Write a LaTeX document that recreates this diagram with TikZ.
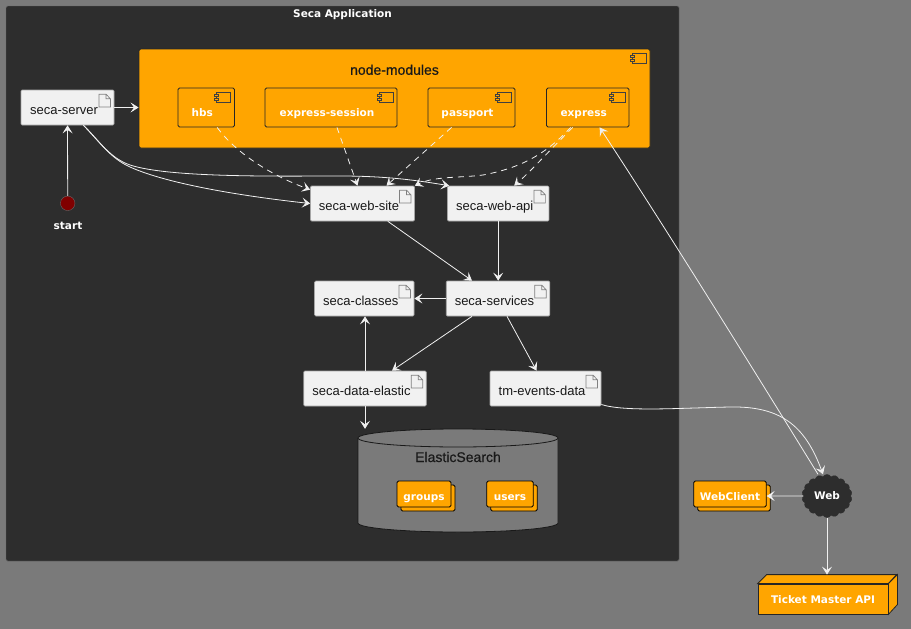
\documentclass[tikz,border=0pt]{standalone}
\usepackage{fontspec}
\setmainfont{Liberation Sans}
\newfontfamily\tagfont{DejaVu Sans}
\newfontfamily\headfont{Liberation Sans}[FakeBold=0.6]
\usetikzlibrary{arrows.meta,shapes.symbols,shadows}
\definecolor{pagegray}{HTML}{7A7A7A}
\definecolor{framedark}{HTML}{2D2D2D}
\definecolor{modorange}{HTML}{FFA500}
\definecolor{artfill}{HTML}{F1F1F1}
\definecolor{linkwhite}{HTML}{F0F0F0}
\tikzset{
  whitetag/.style={text=white,font=\tagfont\bfseries\fontsize{10.5}{12}\selectfont},
  darktext/.style={text=black!90,font=\headfont\fontsize{14}{16}\selectfont},
  artifact/.style={
    draw=gray!70,line width=.7pt,fill=artfill,rounded corners=1.2pt,inner sep=0pt,minimum height=35pt,
    text=black!90,font=\fontsize{13}{15}\selectfont,text height=13pt,text depth=0pt,
    execute at end node={\hspace*{7pt}},
    path picture={
      \draw[gray,line width=.7pt,sharp corners,fill=artfill]
        ([xshift=-15pt,yshift=-4.2pt]path picture bounding box.north east)
        -- ++(7pt,0pt) -- ++(4.4pt,-4.5pt) -- ++(0pt,-8.2pt) -- ++(-11.4pt,0pt) -- cycle
        ([xshift=-8pt,yshift=-4.2pt]path picture bounding box.north east)
        -- ++(0pt,-4.5pt) -- ++(4.4pt,0pt);
    }
  },
  iconbox/.style={
    draw=black!85,line width=.9pt,fill=modorange,rounded corners=1.5pt,inner sep=0pt,
    path picture={
      \draw[black!75,line width=.9pt,sharp corners]
        ([xshift=-18pt,yshift=-4.5pt]path picture bounding box.north east) rectangle ++(14pt,-9.5pt);
      \draw[black!75,line width=.8pt,sharp corners,fill=modorange]
        ([xshift=-20pt,yshift=-6.5pt]path picture bounding box.north east) rectangle ++(4pt,-2pt)
        ([xshift=-20pt,yshift=-10pt]path picture bounding box.north east) rectangle ++(4pt,-2pt);
    }
  },
  module/.style={
    iconbox,minimum height=39pt,whitetag,text height=18pt,text depth=0pt,
    execute at end node={\hspace*{8pt}}
  },
  stack/.style={
    draw=black,line width=.8pt,fill=modorange,rounded corners=1.5pt,inner sep=0pt,minimum height=26pt,
    whitetag,text height=12pt,text depth=0pt,
    copy shadow={shadow xshift=4pt,shadow yshift=-4pt,draw=black,fill=modorange}
  },
  storeline/.style={draw=black!90,line width=.8pt},
  link/.style={draw=linkwhite,line width=.8pt,-{Stealth[length=8pt,width=10pt,inset=3.5pt]}},
  dashlink/.style={link,dashed,dash pattern=on 6pt off 5pt}
}
\begin{document}
\begin{tikzpicture}[x=1pt,y=-1pt]
  \fill[pagegray] (0,0) rectangle (911,629);
  \useasboundingbox (0,0) rectangle (911,629);

  \node[draw=black!60,fill=framedark,rounded corners=1.5pt,minimum width=673pt,minimum height=555pt,inner sep=0pt] (app) at (342.5,283.5) {};
  \node[whitetag] (apptitle) at (342.5,15) {Seca Application};

  % node modules and what is inside
  \node[iconbox,minimum width=511pt,minimum height=99pt,darktext,text height=0pt,text depth=47.5pt] (modules) at (394.5,98.5) {node-modules};
  \node[module,minimum width=56.5pt] (hbs) at (206.2,107.5) {hbs};
  \node[module,minimum width=132pt] (session) at (331,107.5) {express-session};
  \node[module,minimum width=87pt] (passport) at (471.5,107.5) {passport};
  \node[module,minimum width=82.5pt] (express) at (587.7,107.5) {express};

  \node[artifact,minimum width=93pt] (server) at (67.5,107.5) {seca-server};
  \node[circle,draw=black!60,fill=red!50!black,minimum size=14.5pt,inner sep=0pt] (start) at (67.7,203.3) {};
  \node[whitetag] (startlabel) at (68,225.5) {start};

  \node[artifact,minimum width=104pt] (site) at (362.5,203.5) {seca-web-site};
  \node[artifact,minimum width=101.5pt] (api) at (498.2,203.5) {seca-web-api};
  \node[artifact,minimum width=99.5pt] (classes) at (364.3,298.5) {seca-classes};
  \node[artifact,minimum width=103.5pt] (services) at (498,298.5) {seca-services};
  \node[artifact,minimum width=122.5pt] (elastic) at (365,388.5) {seca-data-elastic};
  \node[artifact,minimum width=111pt] (events) at (545.5,388.5) {tm-events-data};

  % the data store
  \draw[storeline,fill=pagegray] (358,438) arc[start angle=180,end angle=0,x radius=100pt,y radius=9pt]
    -- (558,523) arc[start angle=0,end angle=-180,x radius=100pt,y radius=9pt] -- cycle;
  \draw[storeline] (358,438) arc[start angle=180,end angle=360,x radius=100pt,y radius=9pt];
  \node[minimum width=200pt,minimum height=103pt,inner sep=0pt,darktext,text height=0pt,text depth=37pt] (store) at (458,480.5) {ElasticSearch};
  \node[stack,minimum width=54pt] (groups) at (424,494) {groups};
  \node[stack,minimum width=46.5pt] (users) at (510,494) {users};

  % outside of the application
  \node[stack,minimum width=72.5pt] (client) at (730,494) {WebClient};
  \node[cloud,cloud puffs=18,cloud puff arc=120,aspect=1.15,draw=framedark,fill=framedark,minimum width=50pt,minimum height=43pt,inner sep=0pt,whitetag,text=white] (web) at (827,496) {Web};
  \node[draw=black!85,line width=.8pt,fill=modorange,minimum width=130pt,minimum height=30pt,inner sep=0pt,whitetag,text height=9pt,text depth=0pt] (ticket) at (823,599) {Ticket Master API};
  \draw[draw=black!85,line width=.8pt,fill=modorange] (ticket.north west) -- ++(9pt,9pt) -- ++(130pt,0pt) -- (ticket.north east) -- cycle;
  \draw[draw=black!85,line width=.8pt,fill=modorange] (ticket.north east) -- ++(9pt,9pt) -- ++(0pt,-30pt) -- (ticket.south east) -- cycle;
  \coordinate (tickettop) at ([yshift=9pt]ticket.north);

  \draw[link] (start) -- (server);
  \draw[link] (server) -- (server -| modules.west);
  \draw[link] ([xshift=16pt]server.south) .. controls (100,142) and (110,158) .. (130,167) .. controls (170,185) and (250,197) .. (site.west);
  \draw[link] ([xshift=16pt]server.south) .. controls (100,142) and (110,158) .. (130,165) .. controls (170,178) and (280,176) .. (340,176) .. controls (390,176) and (420,181) .. ([xshift=2pt]api.north west);

  % dashed ones come from the modules
  \draw[dashlink] ([xshift=11pt]hbs.south) .. controls (235,152) and (270,175) .. ([yshift=-4pt]site.north west);
  \draw[dashlink] ([xshift=6pt]session.south) -- ([xshift=-5pt]site.north);
  \draw[dashlink] ([xshift=-20pt]passport.south) -- ([xshift=24pt]site.north);
  \draw[dashlink] ([xshift=-17pt]express.south) .. controls (545,155) and (520,168) .. (483,175) .. controls (460,178) and (435,176) .. (site.north east);
  \draw[dashlink] ([xshift=-15pt]express.south) .. controls (547,153) and (530,172) .. ([xshift=16pt]api.north);

  \draw[link] (site) -- ([xshift=-26pt]services.north);
  \draw[link] (api) -- (api |- services.north);
  \draw[link] (services) -- (services -| classes.east);
  \draw[link] ([xshift=-26pt]services.south) -- ([xshift=27pt]elastic.north);
  \draw[link] ([xshift=9pt]services.south) -- ([xshift=-9pt]events.north);
  \draw[link] (elastic) -- (elastic |- classes.south);
  \draw[link] (elastic) -- (elastic |- store.north);

  \draw[link] ([yshift=-16pt]events.east) .. controls (625,412) and (680,408) .. (730,407) .. controls (780,406) and (805,425) .. ([xshift=-4pt]web.north);
  \draw[link] ([xshift=-9pt]web.north) .. controls (800,445) and (680,250) .. ([xshift=12pt]express.south);
  \draw[link] (web) -- (web -| client.east);
  \draw[link] (web) -- (web |- tickettop);
\end{tikzpicture}
\end{document}
